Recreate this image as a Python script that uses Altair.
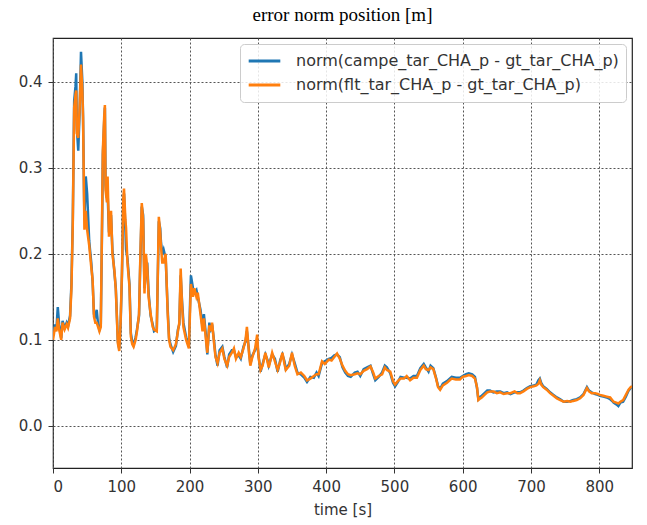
import altair as alt
import pandas as pd

series_names = ["norm(campe_tar_CHA_p - gt_tar_CHA_p)", "norm(flt_tar_CHA_p - gt_tar_CHA_p)"]
series_colors = ["#1f77b4", "#ff7f0e"]

time_s = [0, 3, 5, 7, 9, 12, 14, 17, 20, 22, 25, 27, 29, 31, 33, 34, 35, 37, 39, 41, 43, 44, 46, 48, 50,
          53, 56, 58, 60, 62, 64, 66, 68, 70, 72, 73, 75, 76, 77, 79, 80, 82, 85, 87, 90, 92, 95, 97, 99,
          101, 103, 104, 106, 107, 109, 112, 114, 116, 118, 121, 123, 126, 128, 130, 132, 134, 136, 138,
          140, 143, 146, 148, 152, 154, 155, 157, 158, 160, 162, 165, 168, 170, 172, 176, 180, 183, 185,
          187, 189, 191, 195, 199, 201, 202, 205, 207, 210, 212, 216, 219, 221, 224, 226, 229, 231, 233,
          236, 238, 241, 244, 248, 251, 255, 258, 262, 265, 268, 272, 275, 279, 282, 284, 287, 289, 292,
          296, 299, 301, 304, 307, 311, 314, 316, 321, 325, 329, 333, 336, 339, 341, 346, 350, 354, 358,
          363, 368, 372, 377, 382, 386, 389, 394, 398, 404, 408, 412, 416, 420, 424, 428, 432, 436, 442,
          446, 450, 455, 460, 465, 469, 472, 477, 482, 486, 489, 494, 498, 501, 505, 509, 514, 518, 523,
          528, 533, 538, 543, 546, 550, 553, 557, 561, 564, 567, 571, 577, 581, 584, 590, 596, 600, 605,
          609, 614, 618, 621, 623, 626, 628, 632, 636, 640, 645, 650, 655, 660, 665, 670, 676, 680, 684,
          689, 694, 699, 704, 708, 711, 713, 715, 718, 723, 728, 733, 738, 743, 748, 753, 758, 762, 767,
          772, 777, 782, 785, 789, 794, 798, 801, 806, 811, 816, 819, 821, 825, 828, 831, 835, 839, 843,
          846, 848]

flt_err = [0.100, 0.115, 0.110, 0.125, 0.112, 0.100, 0.120, 0.112, 0.118, 0.114, 0.125, 0.160, 0.236,
           0.370, 0.385, 0.390, 0.340, 0.335, 0.370, 0.420, 0.390, 0.360, 0.228, 0.250, 0.228, 0.210,
           0.185, 0.170, 0.127, 0.120, 0.120, 0.115, 0.110, 0.115, 0.250, 0.320, 0.360, 0.373, 0.274,
           0.260, 0.290, 0.220, 0.250, 0.200, 0.180, 0.158, 0.096, 0.087, 0.120, 0.180, 0.265, 0.276,
           0.240, 0.230, 0.190, 0.162, 0.104, 0.095, 0.092, 0.100, 0.110, 0.130, 0.200, 0.259, 0.240,
           0.154, 0.200, 0.185, 0.150, 0.130, 0.115, 0.112, 0.110, 0.200, 0.243, 0.225, 0.210, 0.190,
           0.190, 0.200, 0.130, 0.100, 0.092, 0.088, 0.095, 0.110, 0.120, 0.183, 0.140, 0.115, 0.100,
           0.090, 0.140, 0.165, 0.150, 0.160, 0.150, 0.155, 0.130, 0.110, 0.125, 0.100, 0.085, 0.117,
           0.110, 0.120, 0.095, 0.080, 0.073, 0.085, 0.090, 0.078, 0.070, 0.080, 0.085, 0.090, 0.078,
           0.085, 0.080, 0.090, 0.100, 0.115, 0.085, 0.070, 0.080, 0.090, 0.106, 0.080, 0.065, 0.070,
           0.085, 0.075, 0.068, 0.085, 0.075, 0.065, 0.075, 0.085, 0.072, 0.065, 0.070, 0.085, 0.070,
           0.060, 0.062, 0.058, 0.053, 0.055, 0.058, 0.060, 0.060, 0.075, 0.072, 0.077, 0.076, 0.080,
           0.084, 0.078, 0.070, 0.064, 0.060, 0.059, 0.060, 0.061, 0.060, 0.064, 0.066, 0.069, 0.062,
           0.055, 0.058, 0.060, 0.068, 0.065, 0.063, 0.052, 0.048, 0.052, 0.055, 0.055, 0.058, 0.053,
           0.056, 0.056, 0.065, 0.070, 0.066, 0.065, 0.068, 0.066, 0.055, 0.045, 0.042, 0.047, 0.050,
           0.053, 0.055, 0.054, 0.054, 0.057, 0.058, 0.059, 0.058, 0.055, 0.045, 0.030, 0.032, 0.033,
           0.036, 0.039, 0.040, 0.040, 0.038, 0.039, 0.037, 0.038, 0.038, 0.040, 0.038, 0.038, 0.040,
           0.043, 0.045, 0.046, 0.047, 0.049, 0.053, 0.048, 0.045, 0.042, 0.038, 0.035, 0.032, 0.030,
           0.028, 0.029, 0.028, 0.029, 0.030, 0.032, 0.036, 0.044, 0.040, 0.038, 0.038, 0.037, 0.036,
           0.035, 0.034, 0.033, 0.030, 0.028, 0.027, 0.026, 0.028, 0.030, 0.036, 0.042, 0.045, 0.046]

campe_err = [0.105, 0.118, 0.112, 0.138, 0.118, 0.102, 0.122, 0.114, 0.120, 0.116, 0.128, 0.165, 0.240,
             0.378, 0.395, 0.410, 0.345, 0.320, 0.365, 0.435, 0.400, 0.360, 0.240, 0.290, 0.270, 0.215,
             0.190, 0.168, 0.130, 0.125, 0.135, 0.118, 0.112, 0.118, 0.240, 0.315, 0.355, 0.370, 0.280,
             0.265, 0.270, 0.225, 0.245, 0.205, 0.178, 0.160, 0.098, 0.090, 0.118, 0.175, 0.260, 0.270,
             0.230, 0.205, 0.195, 0.165, 0.108, 0.098, 0.094, 0.103, 0.112, 0.128, 0.195, 0.255, 0.245,
             0.160, 0.178, 0.190, 0.155, 0.128, 0.118, 0.110, 0.112, 0.195, 0.238, 0.230, 0.215, 0.200,
             0.205, 0.195, 0.135, 0.102, 0.095, 0.086, 0.093, 0.112, 0.118, 0.175, 0.145, 0.120, 0.103,
             0.092, 0.150, 0.175, 0.160, 0.155, 0.158, 0.150, 0.135, 0.115, 0.130, 0.105, 0.083, 0.120,
             0.113, 0.118, 0.098, 0.082, 0.070, 0.088, 0.092, 0.080, 0.068, 0.083, 0.088, 0.088, 0.080,
             0.082, 0.078, 0.092, 0.098, 0.110, 0.088, 0.072, 0.082, 0.088, 0.098, 0.082, 0.063, 0.072,
             0.083, 0.077, 0.070, 0.083, 0.078, 0.063, 0.077, 0.083, 0.075, 0.066, 0.072, 0.083, 0.073,
             0.062, 0.060, 0.056, 0.051, 0.057, 0.056, 0.062, 0.058, 0.073, 0.075, 0.078, 0.079, 0.082,
             0.083, 0.080, 0.068, 0.062, 0.058, 0.057, 0.062, 0.063, 0.058, 0.066, 0.068, 0.070, 0.060,
             0.053, 0.057, 0.062, 0.070, 0.068, 0.061, 0.050, 0.046, 0.051, 0.057, 0.056, 0.056, 0.055,
             0.058, 0.058, 0.067, 0.072, 0.068, 0.063, 0.070, 0.067, 0.056, 0.046, 0.043, 0.049, 0.052,
             0.055, 0.057, 0.056, 0.056, 0.058, 0.060, 0.061, 0.060, 0.057, 0.044, 0.031, 0.034, 0.035,
             0.038, 0.041, 0.041, 0.039, 0.040, 0.040, 0.038, 0.039, 0.037, 0.039, 0.039, 0.039, 0.041,
             0.044, 0.046, 0.047, 0.048, 0.053, 0.055, 0.050, 0.046, 0.043, 0.039, 0.036, 0.033, 0.031,
             0.028, 0.028, 0.029, 0.030, 0.031, 0.033, 0.037, 0.045, 0.041, 0.039, 0.037, 0.036, 0.035,
             0.034, 0.033, 0.031, 0.029, 0.027, 0.025, 0.023, 0.027, 0.028, 0.034, 0.041, 0.044, 0.046]

x_ticks = [0, 100, 200, 300, 400, 500, 600, 700, 800]
y_ticks = [0.0, 0.1, 0.2, 0.3, 0.4]

rows = []
for t, v in zip(time_s, campe_err):
    rows.append({"time": t, "err": v, "series": series_names[0], "order": 0})
for t, v in zip(time_s, flt_err):
    rows.append({"time": t, "err": v, "series": series_names[1], "order": 1})
df = pd.DataFrame(rows)

tick_font = "DejaVu Sans"
gray = "#333333"

chart = alt.Chart(df).mark_line(strokeWidth=2.5, clip=True).encode(
    x=alt.X("time:Q", scale=alt.Scale(domain=[0, 848], nice=False, zero=False),
            axis=alt.Axis(values=x_ticks, title="time [s]", format="d", labelPadding=6, titlePadding=8)),
    y=alt.Y("err:Q", scale=alt.Scale(domain=[-0.049, 0.451], nice=False, zero=False),
            axis=alt.Axis(values=y_ticks, title=None, format=".1f", labelPadding=6)),
    color=alt.Color("series:N",
                    scale=alt.Scale(domain=series_names, range=series_colors),
                    legend=alt.Legend(title=None, orient="top-right", offset=6,
                                      labelFontSize=16, labelFont=tick_font, labelColor=gray,
                                      labelLimit=500, symbolType="stroke", symbolStrokeWidth=2.8,
                                      symbolSize=1000, symbolOffset=0, labelOffset=14,
                                      clipHeight=20, rowPadding=4, padding=7,
                                      fillColor="rgba(255,255,255,0.85)", strokeColor="#cccccc",
                                      cornerRadius=4)),
    detail="order:O",
).properties(
    width=579,
    height=430,
    title=alt.TitleParams("error norm position [m]", font="Liberation Serif", fontSize=19,
                          fontWeight="normal", color="black", anchor="middle", offset=13),
    autosize=alt.AutoSizeParams(type="none"),
    padding={"left": 53, "top": 38, "right": 15, "bottom": 57},
).configure_view(
    stroke="#222222", strokeWidth=1.2
).configure_axis(
    domain=False, grid=True, gridColor="#555555", gridDash=[2, 2], gridWidth=1,
    ticks=True, tickColor=gray, tickSize=5, tickWidth=1,
    labelFont=tick_font, labelFontSize=15, labelColor=gray,
    titleFont=tick_font, titleFontSize=15, titleColor=gray, titleFontWeight="normal",
)

chart.save("out.html", embed_options={"renderer": "svg", "actions": False})
